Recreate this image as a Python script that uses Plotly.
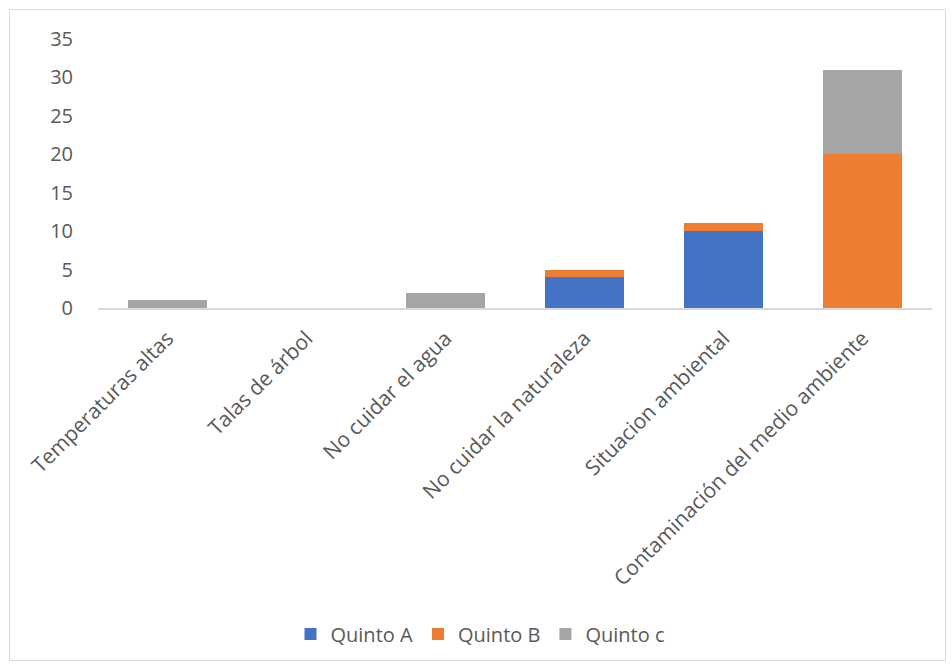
import plotly.graph_objects as go

categories = [
    "Temperaturas altas",
    "Talas de árbol",
    "No cuidar el agua",
    "No cuidar la naturaleza",
    "Situacion ambiental",
    "Contaminación del medio ambiente",
]
quinto_a = [0, 0, 0, 4, 10, 0]
quinto_b = [0, 0, 0, 1, 1, 20]
quinto_c = [1, 0, 2, 0, 0, 11]
y_ticks = [0, 5, 10, 15, 20, 25, 30, 35]

text_color = "#595959"
font_family = "Open Sans"

fig = go.Figure()
for name, vals, color in [
    ("Quinto A", quinto_a, "#4472C4"),
    ("Quinto B", quinto_b, "#ED7D31"),
    ("Quinto c", quinto_c, "#A5A5A5"),
]:
    fig.add_trace(go.Bar(name=name, x=categories, y=vals, marker_color=color,
                         marker_line_width=0))

W, H = 952, 667
L, R, T, B = 98, 20, 39, 359
pw, ph = W - L - R, H - T - B


def px_x(p):
    return (p - L) / pw


def px_y(p):
    return (H - B - p) / ph


fig.update_layout(
    width=W, height=H,
    margin=dict(l=L, r=R, t=T, b=B, autoexpand=False),
    barmode="stack",
    bargap=0.43,
    plot_bgcolor="white",
    paper_bgcolor="white",
    font=dict(family=font_family, size=20, color=text_color),
    legend=dict(orientation="h", x=px_x(480), y=px_y(634), xanchor="center",
                yanchor="middle", traceorder="normal",
                font=dict(size=20, color=text_color),
                itemwidth=30, tracegroupgap=0),
    shapes=[dict(type="rect", xref="paper", yref="paper",
                 x0=px_x(9.5), x1=px_x(945.5), y0=px_y(660.5), y1=px_y(9.5),
                 line=dict(color="#D9D9D9", width=1), layer="below")],
)
fig.update_xaxes(showline=True, linecolor="#D9D9D9", linewidth=1.5,
                 tickangle=-45, showgrid=False, ticks="outside", ticklen=8,
                 tickcolor="rgba(0,0,0,0)", tickfont=dict(size=21))
fig.update_yaxes(range=[0, 35], tickvals=y_ticks, showgrid=False, zeroline=False,
                 showline=False, ticks="outside", ticklen=20,
                 tickcolor="rgba(0,0,0,0)", tickfont=dict(size=20))

fig.write_html("out.html")
